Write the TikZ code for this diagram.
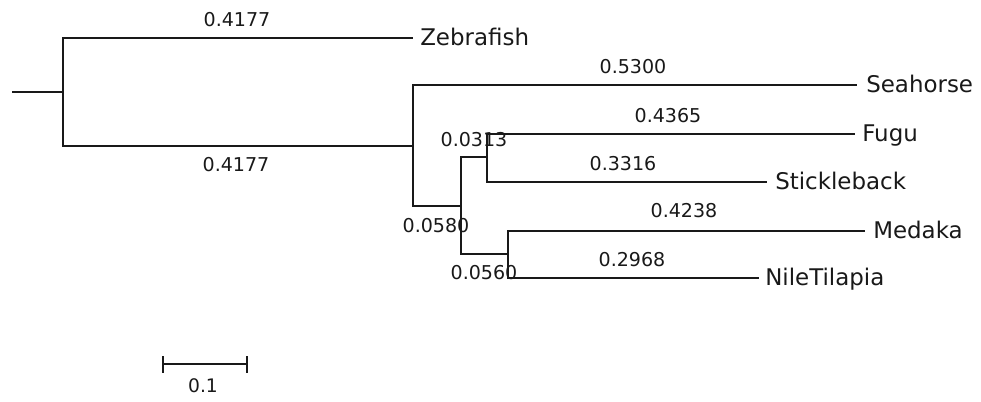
\documentclass[tikz,border=0pt]{standalone}
\usepackage{fontspec}
\setmainfont{DejaVu Sans}
\begin{document}
\begin{tikzpicture}[x=0.75pt,y=-0.75pt,
  br/.style={line width=1.2pt, black!90},
  tip/.style={anchor=base west, inner sep=0pt, font=\fontsize{17.2}{19}\selectfont, text=black!90},
  blen/.style={anchor=center, inner sep=0pt, font=\fontsize{14.3}{16}\selectfont, text=black!90}]
\useasboundingbox (0,0) rectangle (981,401);
% tree coordinates
\coordinate (root) at (12,92);
\coordinate (n0) at (63,92);
\coordinate (tZ) at (413,38);
\coordinate (n1) at (413,146);
\coordinate (tS) at (857,85);
\coordinate (n2) at (461,206);
\coordinate (n3) at (487,157);
\coordinate (tF) at (855,134);
\coordinate (tSt) at (767,182);
\coordinate (n4) at (508,254);
\coordinate (tM) at (865,231);
\coordinate (tN) at (759,278);
% branches
\draw[br] (root) -- (n0);
\draw[br] (n0) |- (tZ);
\draw[br] (n0) |- (n1);
\draw[br] (n1) |- (tS);
\draw[br] (n1) |- (n2);
\draw[br] (n2) |- (n3);
\draw[br] (n2) |- (n4);
\draw[br] (n3) |- (tF);
\draw[br] (n3) |- (tSt);
\draw[br] (n4) |- (tM);
\draw[br] (n4) |- (tN);
% tip labels
\node[tip] (lZ) at (420,45) {Zebrafish};
\node[tip] (lS) at (866,92) {Seahorse};
\node[tip] (lF) at (862,141) {Fugu};
\node[tip] (lSt) at (775,189) {Stickleback};
\node[tip] (lM) at (873,238) {Medaka};
\node[tip] (lN) at (765,285) {NileTilapia};
% branch lengths
\node[blen] (bZ) at (237,20) {0.4177};
\node[blen] (b1) at (236,165) {0.4177};
\node[blen] (bS) at (633,67) {0.5300};
\node[blen] (b3) at (474,140) {0.0313};
\node[blen] (bF) at (668,116) {0.4365};
\node[blen] (bSt) at (623,164) {0.3316};
\node[blen] (b2) at (436,226) {0.0580};
\node[blen] (bM) at (684,211) {0.4238};
\node[blen] (b4) at (484,273) {0.0560};
\node[blen] (bN) at (632,260) {0.2968};
% scale bar
\coordinate (sa) at (163,364);
\coordinate (sb) at (247,364);
\draw[br] (sa) -- (sb);
\draw[br] (163,356) -- (163,373);
\draw[br] (247,356) -- (247,373);
\node[blen, font=\fontsize{14}{16}\selectfont] (sl) at (203,386) {0.1};
\end{tikzpicture}
\end{document}
